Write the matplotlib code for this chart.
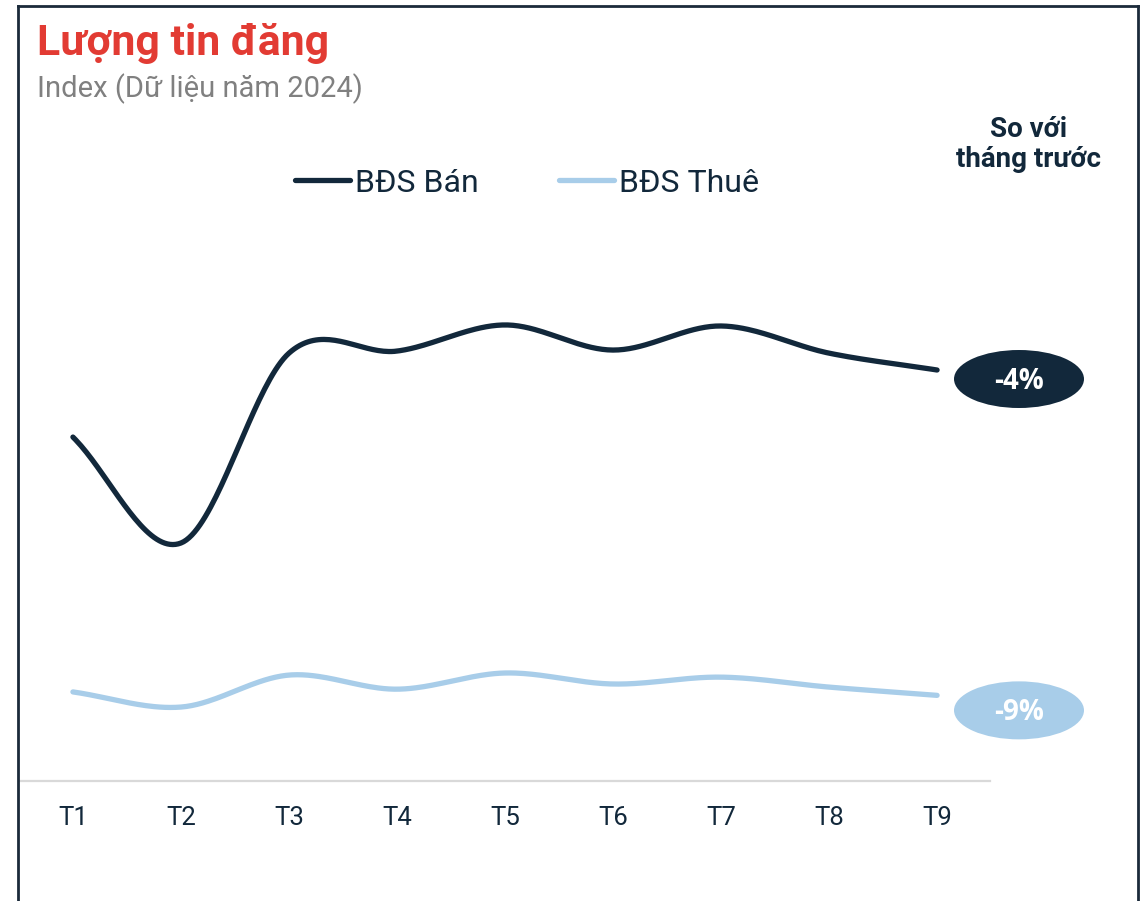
import numpy as np
import matplotlib
matplotlib.use("Agg")
from matplotlib import pyplot as plt
from matplotlib.lines import Line2D
from matplotlib.patches import Ellipse
from matplotlib.transforms import IdentityTransform

# data (index)
months = ["T1", "T2", "T3", "T4", "T5", "T6", "T7", "T8", "T9"]
ban = [100.0, 69.2, 124.4, 125.0, 132.6, 125.3, 132.3, 124.4, 119.5]
thue = [25.9, 21.5, 30.8, 26.7, 31.4, 28.2, 30.2, 27.3, 24.9]
change_labels = ["-4%", "-9%"]

NAVY = "#12283b"
LIGHT = "#a8cde9"
RED = "#e23b33"


def smooth(y, n=40):
    # catmull-rom through the points, for drawing only
    y = np.asarray(y, dtype=float)
    m = np.empty_like(y)
    m[1:-1] = (y[2:] - y[:-2]) / 2
    m[0] = y[1] - y[0]
    m[-1] = y[-1] - y[-2]
    xs, ys = [], []
    for i in range(len(y) - 1):
        t = np.linspace(0, 1, n, endpoint=False)
        h00 = 2 * t**3 - 3 * t**2 + 1
        h10 = t**3 - 2 * t**2 + t
        h01 = -2 * t**3 + 3 * t**2
        h11 = t**3 - t**2
        xs.append(i + 1 + t)
        ys.append(h00 * y[i] + h10 * m[i] + h01 * y[i + 1] + h11 * m[i + 1])
    xs.append([len(y)])
    ys.append([y[-1]])
    return np.concatenate(xs), np.concatenate(ys)


W, H = 1142, 901
fig = plt.figure(figsize=(W / 100, H / 100), dpi=100)
plt.rcParams["font.family"] = ["Roboto", "DejaVu Sans"]

ax = fig.add_axes([20 / W, 1 - 781 / H, 970 / W, 541 / H])
x = np.arange(1, len(months) + 1)

sx, sy = smooth(ban)
ax.plot(sx, sy, color=NAVY, lw=3.8, solid_capstyle="round", label="BĐS Bán")
sx, sy = smooth(thue)
ax.plot(sx, sy, color=LIGHT, lw=3.8, solid_capstyle="round", label="BĐS Thuê")

ax.set_xlim(0.51, 9.49)
ax.set_ylim(0, 157.3)
ax.set_xticks(x)
ax.set_xticklabels(months, fontsize=18.5, color=NAVY)
ax.tick_params(axis="x", length=0, pad=18)
ax.set_yticks([])
for s in ["top", "right", "left"]:
    ax.spines[s].set_visible(False)
ax.spines["bottom"].set_color("#d9d9d9")
ax.spines["bottom"].set_linewidth(1.6)

fig.legend(loc="center", bbox_to_anchor=(527 / W, 1 - 183 / H), ncol=2,
           frameon=False, fontsize=23, labelcolor=NAVY, handlelength=1.72,
           handletextpad=0.15, columnspacing=2.5)

# pills with change vs previous month
for vals, lab, col, dy in [(ban, change_labels[0], NAVY, 9), (thue, change_labels[1], LIGHT, 15)]:
    px, py = ax.transData.transform((9, vals[-1]))
    e = Ellipse((1019, py - dy), 130, 58, transform=IdentityTransform(),
                facecolor=col, edgecolor="none")
    fig.add_artist(e)
    fig.text(1019 / W, (py - dy - 2) / H, lab, ha="center", va="center",
             fontsize=20, fontweight="bold", color="white",
             family=["Open Sans", "DejaVu Sans"])

fig.text(1029 / W, 1 - 137 / H, "So với", ha="center", va="baseline",
         fontsize=20, fontweight="bold", color=NAVY)
fig.text(1029 / W, 1 - 167 / H, "tháng trước", ha="center", va="baseline",
         fontsize=20, fontweight="bold", color=NAVY)

fig.text(37 / W, 1 - 55 / H, "Lượng tin đăng", ha="left", va="baseline",
         fontsize=30.8, fontweight="bold", color=RED)
fig.text(37 / W, 1 - 97 / H, "Index (Dữ liệu năm 2024)", ha="left", va="baseline",
         fontsize=21, color="#808080")

# frame
fc = "#1b2a3a"
fig.add_artist(Line2D([17.5 / W, 17.5 / W], [0, 1 - 6 / H], color=fc, lw=2))
fig.add_artist(Line2D([17.5 / W, 1137.5 / W], [1 - 6 / H, 1 - 6 / H], color=fc, lw=2))
fig.add_artist(Line2D([1137.5 / W, 1137.5 / W], [0, 1 - 6 / H], color=fc, lw=2))

fig.savefig("out.png", dpi=100)
